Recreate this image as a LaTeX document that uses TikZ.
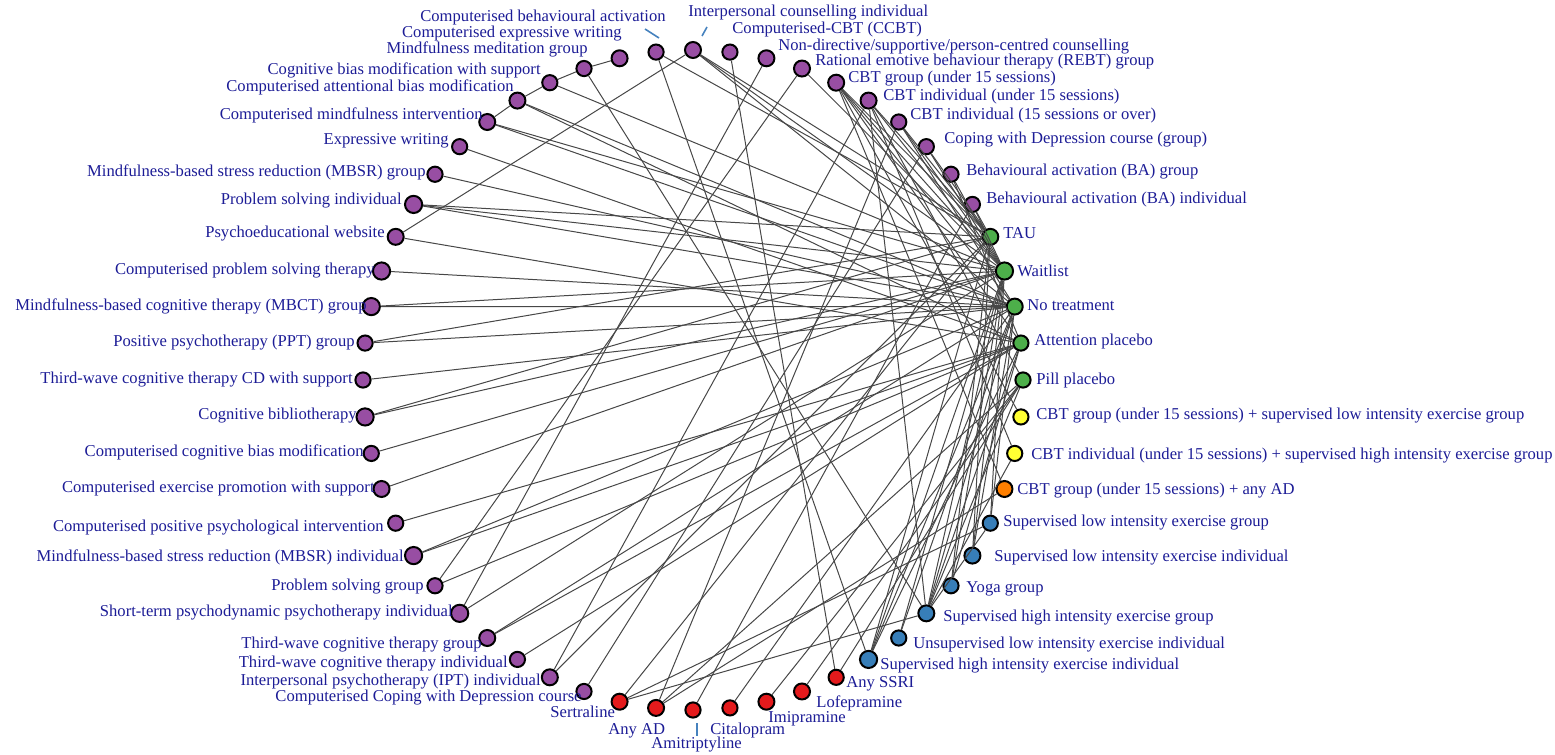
\documentclass[tikz,border=0pt]{standalone}
\usepackage{fontspec}
\setmainfont{Liberation Serif}

\definecolor{npurple}{RGB}{152,78,163}
\definecolor{ngreen}{RGB}{77,175,74}
\definecolor{nyellow}{RGB}{255,255,51}
\definecolor{norange}{RGB}{255,127,0}
\definecolor{nblue}{RGB}{55,126,184}
\definecolor{nred}{RGB}{228,26,28}
\definecolor{labblue}{RGB}{28,28,150}
\definecolor{tickblue}{RGB}{70,130,190}

\tikzset{
  trt/.style={circle, draw=black, line width=1pt, inner sep=0pt},
  lab/.style={text=labblue, inner sep=0pt, font=\fontsize{8.3}{9}\selectfont},
  link/.style={draw=black!72, line width=0.5pt},
  leader/.style={draw=tickblue, line width=0.8pt}
}

\begin{document}
\begin{tikzpicture}[x=0.5pt, y=-0.5pt]
% Parameters
\def\nodenum{56}
\def\radius{330}
\pgfmathsetmacro{\step}{360/\nodenum}
\useasboundingbox (0,0) rectangle (1555,755);

% === Treatment nodes (clockwise from the top) ===
\foreach \name/\col/\sz [count=\i] in {
  ICI/npurple/8pt, CCBT/npurple/7.6pt, NDC/npurple/8pt, REBT/npurple/8pt,
  CBTg/npurple/8pt, CBTi/npurple/8pt, CBTiL/npurple/7.6pt, CWD/npurple/7.6pt,
  BAg/npurple/7.6pt, BAi/npurple/7.6pt,
  TAU/ngreen/8pt, WL/ngreen/8.6pt, NT/ngreen/8pt, AP/ngreen/7.6pt, PP/ngreen/7.6pt,
  CBTgEx/nyellow/7.6pt, CBTiEx/nyellow/7.6pt, CBTgAD/norange/8pt,
  SLEg/nblue/7.6pt, SLEi/nblue/8pt, Yoga/nblue/7.6pt, SHEg/nblue/8pt,
  ULEi/nblue/7.6pt, SHEi/nblue/8.6pt,
  SSRI/nred/7.6pt, Lofe/nred/8pt, Imi/nred/8pt, Cit/nred/7.6pt,
  Ami/nred/7.6pt, AnyAD/nred/8pt, Sert/nred/8pt,
  CCWD/npurple/7.6pt, IPT/npurple/8pt, TWi/npurple/7.6pt, TWg/npurple/8pt,
  STPP/npurple/8.6pt, PSg/npurple/7.6pt, MBSRi/npurple/8.6pt, CPPI/npurple/7.6pt,
  CEPS/npurple/8pt, CCBM/npurple/7.6pt, CBib/npurple/8.6pt, TWCD/npurple/7.6pt,
  PPT/npurple/7.6pt, MBCT/npurple/8.6pt, CPST/npurple/8.6pt, PWeb/npurple/8pt,
  PSi/npurple/8.6pt, MBSRg/npurple/7.6pt, EW/npurple/7.6pt, CMI/npurple/8pt,
  CABM/npurple/8pt, CBMS/npurple/7.6pt, MMg/npurple/7.6pt, CEW/npurple/8pt,
  CBA/npurple/7.6pt}{
  \pgfmathsetmacro{\ang}{-90+(\i-1)*\step}
  \pgfmathsetmacro{\px}{693+\radius*cos(\ang)}
  \pgfmathsetmacro{\py}{380+\radius*sin(\ang)}
  \node[trt, fill=\col, minimum size=\sz] (\name) at (\px,\py) {};
}

% === Labels, right half ===
\foreach \name/\lx/\ly/\txt in {
  ICI/688/13/Interpersonal counselling individual,
  CCBT/732/30/Computerised-CBT (CCBT),
  NDC/778/47/Non-directive\slash supportive\slash person-centred counselling,
  REBT/815/62/Rational emotive behaviour therapy (REBT) group,
  CBTg/848/79/CBT group (under 15 sessions),
  CBTi/883/97/CBT individual (under 15 sessions),
  CBTiL/910/116/CBT individual (15 sessions or over),
  CWD/944/140/Coping with Depression course (group),
  BAg/966/172/Behavioural activation (BA) group,
  BAi/986/200/Behavioural activation (BA) individual,
  TAU/1003/233/TAU,
  WL/1017/271/Waitlist,
  NT/1027/305/No treatment,
  AP/1034/342/Attention placebo,
  PP/1036/381/Pill placebo,
  CBTgEx/1036/416/CBT group (under 15 sessions) + supervised low intensity exercise group,
  CBTiEx/1031/456/CBT individual (under 15 sessions) + supervised high intensity exercise group,
  CBTgAD/1017/491/CBT group (under 15 sessions) + any AD,
  SLEg/1003/523/Supervised low intensity exercise group,
  SLEi/994/558/Supervised low intensity exercise individual,
  Yoga/966/589/Yoga group,
  SHEg/943/618/Supervised high intensity exercise group,
  ULEi/913/645/Unsupervised low intensity exercise individual,
  SHEi/880/666/Supervised high intensity exercise individual,
  SSRI/846/684/Any SSRI,
  Lofe/816/703/Lofepramine,
  Imi/768/719/Imipramine,
  Cit/710/731/Citalopram,
  Ami/651/745/Amitriptyline,
  AnyAD/608/731/Any AD,
  Sert/550/712/Sertraline}{
  \node[lab, anchor=west] (\name-lab) at (\lx,\ly) {\txt};
}

% === Labels, left half ===
\foreach \name/\lx/\ly/\txt in {
  CCWD/582/698/Computerised Coping with Depression course,
  IPT/541/682/Interpersonal psychotherapy (IPT) individual,
  TWi/508/664/Third-wave cognitive therapy individual,
  TWg/482/645/Third-wave cognitive therapy group,
  STPP/453/613/Short-term psychodynamic psychotherapy individual,
  PSg/424/587/Problem solving group,
  MBSRi/404/557/Mindfulness-based stress reduction (MBSR) individual,
  CPPI/384/528/Computerised positive psychological intervention,
  CEPS/375/489/Computerised exercise promotion with support,
  CCBM/364/452/Computerised cognitive bias modification,
  CBib/357/416/Cognitive bibliotherapy,
  TWCD/353/380/Third-wave cognitive therapy CD with support,
  PPT/355/343/Positive psychotherapy (PPT) group,
  MBCT/367/306/Mindfulness-based cognitive therapy (MBCT) group,
  CPST/375/271/Computerised problem solving therapy,
  PWeb/385/234/Psychoeducational website,
  PSi/402/201/Problem solving individual,
  MBSRg/426/172/Mindfulness-based stress reduction (MBSR) group,
  EW/449/141/Expressive writing,
  CMI/483/115/Computerised mindfulness intervention,
  CABM/514/87/Computerised attentional bias modification,
  CBMS/541/70/Cognitive bias modification with support,
  MMg/588/49/Mindfulness meditation group,
  CEW/622/34/Computerised expressive writing,
  CBA/666/18/Computerised behavioural activation}{
  \node[lab, anchor=east] (\name-lab) at (\lx,\ly) {\txt};
}

% === Label leaders ===
\coordinate (CBA-a) at (645,29);  \coordinate (CBA-b) at (659,38);
\coordinate (ICI-a) at (707,27);  \coordinate (ICI-b) at (702,36);
\coordinate (Ami-a) at (697,723); \coordinate (Ami-b) at (697,736);
\draw[leader] (CBA-a) -- (CBA-b);
\draw[leader] (ICI-a) -- (ICI-b);
\draw[leader] (Ami-a) -- (Ami-b);

% === Comparisons ===
\foreach \a/\b in {
  ICI/PWeb, ICI/TAU, ICI/WL, ICI/NT,
  CCBT/SSRI, NDC/STPP, REBT/PSg, REBT/WL,
  CBTg/CBTgEx, CBTg/CBTgAD, CBTg/WL, CBTg/TAU, CBTg/NT, CBTg/AP,
  CBTi/CBTiEx, CBTi/IPT, CBTi/WL, CBTi/TAU, CBTi/PP, CBTi/SHEg,
  CBTiL/AnyAD, CBTiL/WL, CBTiL/TAU, CBTiL/NT,
  CWD/CCWD, CWD/WL, CWD/TAU,
  BAg/WL, BAg/AP, BAi/WL, BAi/TAU,
  SLEg/WL, SLEg/NT,
  SLEi/WL, SLEi/NT, SLEi/TAU,
  Yoga/WL, Yoga/AP, Yoga/TAU,
  SHEg/MMg, SHEg/Sert, SHEg/PP, SHEg/WL, SHEg/NT, SHEg/AP, SHEg/SLEg, SHEg/CBTiEx,
  ULEi/WL, ULEi/NT,
  SHEi/CBA, SHEi/WL, SHEi/NT, SHEi/TAU, SHEi/AP,
  SSRI/PP, Lofe/PP, Imi/PP, Cit/NT, Ami/BAi,
  AnyAD/PP, AnyAD/CBTgAD, Sert/TAU, Sert/SLEg,
  IPT/TAU, TWi/AP, TWg/NT, TWg/AP, STPP/WL, PSg/AP,
  MBSRi/NT, MBSRi/AP, CPPI/AP, CEPS/WL, CCBM/WL,
  CBib/TAU, CBib/WL, TWCD/NT, PPT/TAU, PPT/NT,
  MBCT/WL, MBCT/NT, CPST/NT, PWeb/AP,
  PSi/TAU, PSi/WL, PSi/NT, MBSRg/NT, EW/AP,
  CMI/CABM, CMI/WL, CMI/NT,
  CABM/CBMS, CABM/NT, CABM/AP,
  CBMS/MMg, CBMS/WL, MMg/CEW, CBA/TAU}{
  \draw[link] (\a) -- (\b);
}
\end{tikzpicture}
\end{document}
